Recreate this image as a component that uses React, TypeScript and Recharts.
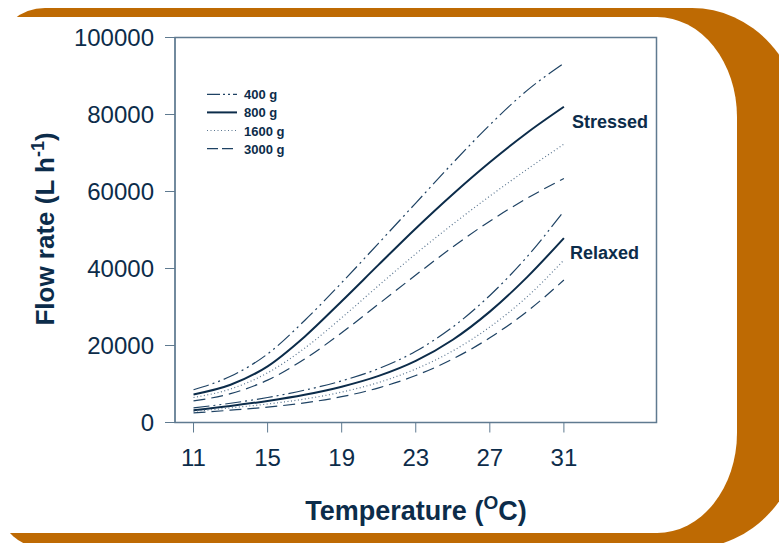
import { LineChart, Line, XAxis, YAxis, ReferenceArea, Customized } from 'recharts';

// water temperature (deg C)
const temperatures = [11, 13, 15, 17, 19, 21, 23, 25, 27, 29, 31];

// stressed fish, flow rate in L/h
const stressed400 = [8500, 12000, 17800, 26500, 36300, 46600, 57000, 67400, 77300, 86200, 93300];
const stressed800 = [7300, 9800, 14600, 22300, 31500, 41000, 50400, 59300, 67600, 75200, 82000];
const stressed1600 = [6500, 8700, 12900, 19300, 27200, 35600, 43800, 51500, 58800, 65700, 72300];
const stressed3000 = [5600, 7500, 11000, 16500, 23300, 30800, 38300, 45600, 52300, 58200, 63400];

// relaxed fish
const relaxed400 = [3800, 5000, 6500, 8400, 10800, 14000, 18500, 24800, 33000, 43000, 54900];
const relaxed800 = [3200, 4300, 5600, 7200, 9300, 12100, 16000, 21500, 28800, 37700, 47900];
const relaxed1600 = [2900, 3800, 4800, 6100, 7900, 10400, 13900, 18600, 24800, 32600, 42200];
const relaxed3000 = [2500, 3200, 4000, 5100, 6700, 9000, 12200, 16500, 22000, 28800, 37000];

const xTicks = [11, 15, 19, 23, 27, 31];
const yTicks = [0, 20000, 40000, 60000, 80000, 100000];
const weightLabels = ['400 g', '800 g', '1600 g', '3000 g'];

const data = temperatures.map((t, i) => ({
  t,
  s400: stressed400[i], s800: stressed800[i], s1600: stressed1600[i], s3000: stressed3000[i],
  r400: relaxed400[i], r800: relaxed800[i], r1600: relaxed1600[i], r3000: relaxed3000[i],
}));

const INK = '#0c2c4a';
const AXIS = '#5f7a90';
const FONT = '"Liberation Sans", Arial, Helvetica, sans-serif';

// line style per fish weight: 400, 800, 1600, 3000
const styles = [
  { dash: '16 4 2 4 2 4', width: 1.2, color: '#1e4263' },
  { dash: undefined, width: 2, color: '#0c2c4a' },
  { dash: '1 2.5', width: 1.2, color: '#5b7690' },
  { dash: '12 6', width: 1.2, color: '#1e4263' },
];
const keys = [['s400', 'r400'], ['s800', 'r800'], ['s1600', 'r1600'], ['s3000', 'r3000']];

const Overlay = () => (
  <g fontFamily={FONT} fill={INK}>
    {weightLabels.map((w, i) => {
      const y = 94.3 + i * 18.1;
      return (
        <g key={w}>
          <line x1={207} x2={237} y1={y} y2={y} stroke={styles[i].color}
            strokeWidth={styles[i].width} strokeDasharray={i === 0 ? '13 3 2 3 2 3' : i === 3 ? '11 4' : styles[i].dash} />
          <text x={244} y={y + 5} fontSize={13} fontWeight="bold">{w}</text>
        </g>
      );
    })}
    <text x={572} y={128} fontSize={18} fontWeight="bold">Stressed</text>
    <text x={570} y={259} fontSize={18} fontWeight="bold">Relaxed</text>
    <text x={416} y={520} fontSize={27} fontWeight="bold" textAnchor="middle">
      Temperature (<tspan dy={-11} fontSize={19}>O</tspan><tspan dy={11}>C)</tspan>
    </text>
    <text x={0} y={0} fontSize={26} fontWeight="bold" textAnchor="middle"
      transform="translate(54 229) rotate(-90)">
      Flow rate (L h<tspan dy={-10} fontSize={18}>-1</tspan><tspan dy={10}>)</tspan>
    </text>
  </g>
);

export default function App() {
  return (
    <div style={{ position: 'absolute', left: 0, top: 0, width: 779, height: 543, overflow: 'hidden', background: '#fff' }}>
      <div style={{ position: 'absolute', left: 0, top: 8, width: 802, height: 540, background: '#be6a03',
        borderRadius: '45px 110px 110px 45px / 40px 120px 120px 40px' }} />
      <div style={{ position: 'absolute', left: -40, top: 17, width: 777, height: 516, background: '#fff',
        borderRadius: '50px 80px 80px 50px / 50px 100px 100px 50px' }} />
      <div style={{ position: 'absolute', left: 0, top: 0 }}>
        <LineChart width={779} height={543} data={data}
          margin={{ top: 37.5, right: 122.5, bottom: 0, left: 0 }}>
          <XAxis dataKey="t" type="number" domain={[10, 36]} ticks={xTicks} height={120.5}
            tickSize={10} tickMargin={16} stroke={AXIS}
            tick={{ fill: INK, fontSize: 24, fontFamily: FONT }} />
          <YAxis type="number" domain={[0, 100000]} ticks={yTicks} width={175}
            tickSize={10} tickMargin={11} stroke={AXIS}
            tick={{ fill: INK, fontSize: 24, fontFamily: FONT }} />
          <ReferenceArea x1={10} x2={36} y1={0} y2={100000} fill="none" stroke={AXIS} strokeWidth={1.5} />
          {keys.flatMap((pair, i) => pair.map((k) => (
            <Line key={k} dataKey={k} type="monotone" dot={false} isAnimationActive={false}
              stroke={styles[i].color} strokeWidth={styles[i].width} strokeDasharray={styles[i].dash} />
          )))}
          <Customized component={Overlay} />
        </LineChart>
      </div>
    </div>
  );
}
